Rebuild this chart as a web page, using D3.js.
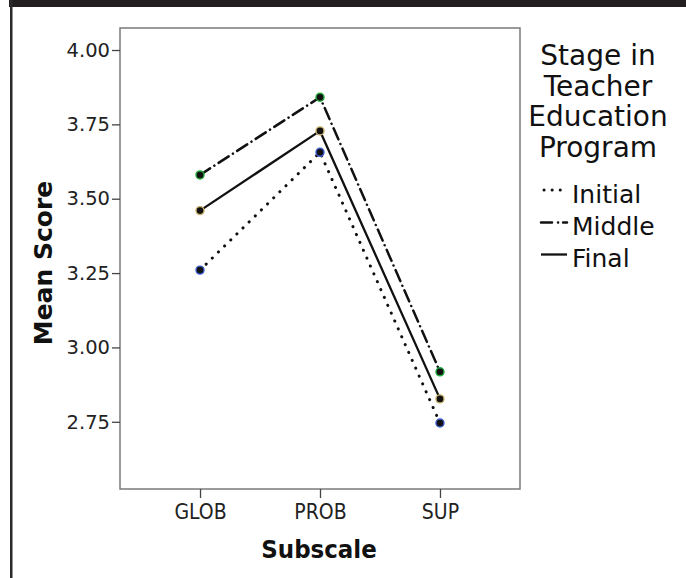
<html>
<head>
<style>
body { margin: 0; background: #fff; }
.tick text { font-family: "DejaVu Sans"; }
</style>
</head>
<body>
<div id=chartContainer></div>
<script src="https://d3js.org/d3.v7.min.js"></script>
<script type="text/javascript">
    // values
    var subscales = ["GLOB", "PROB", "SUP"];
    var initialScores = [3.26, 3.656, 2.746];
    var middleScores = [3.58, 3.841, 2.918];
    var finalScores = [3.46, 3.728, 2.827];
    var yTicks = [2.75, 3.00, 3.25, 3.50, 3.75, 4.00];
    var legendTitle = ["Stage in", "Teacher", "Education", "Program"];
    var stageNames = ["Initial", "Middle", "Final"];

    var W = 686, H = 578;
    var svg = d3.select("#chartContainer").append("svg")
        .attr("width", W).attr("height", H);

    // page frame bits
    svg.append("rect").attr("x", 9).attr("y", 0).attr("width", W - 9).attr("height", 7).attr("fill", "#231f20");
    svg.append("rect").attr("x", 10).attr("y", 0).attr("width", 2.5).attr("height", H).attr("fill", "#2a2a2a");

    var plotLeft = 120, plotRight = 520, plotTop = 28, plotBottom = 489;

    var x = d3.scalePoint().domain(subscales).range([plotLeft, plotRight]).padding(0.667);
    var y = d3.scaleLinear().domain([2.524, 4.074]).range([plotBottom, plotTop]);

    // plot box
    svg.append("rect")
        .attr("x", plotLeft).attr("y", plotTop)
        .attr("width", plotRight - plotLeft).attr("height", plotBottom - plotTop)
        .attr("fill", "none").attr("stroke", "#7a7a7a").attr("stroke-width", 1.5);

    var yAxis = svg.append("g")
        .attr("transform", "translate(" + plotLeft + ",0)")
        .call(d3.axisLeft(y).tickValues(yTicks).tickFormat(d3.format(".2f")).tickSize(8).tickPadding(2));
    yAxis.select(".domain").remove();
    yAxis.selectAll("line").attr("stroke", "#444").attr("stroke-width", 1.3);
    yAxis.selectAll("text").style("font-size", "19.5px").attr("fill", "#222");

    var xAxis = svg.append("g")
        .attr("transform", "translate(0," + plotBottom + ")")
        .call(d3.axisBottom(x).tickSize(9).tickPadding(6));
    xAxis.select(".domain").remove();
    xAxis.selectAll("line").attr("stroke", "#444").attr("stroke-width", 1.3);
    xAxis.selectAll("text")
        .style("font-family", "'DejaVu Sans Condensed', 'Liberation Sans Narrow', sans-serif")
        .style("font-stretch", "condensed")
        .style("font-size", "21px").attr("fill", "#222");

    // axis titles
    svg.append("text")
        .attr("transform", "translate(52,263) rotate(-90)")
        .attr("text-anchor", "middle")
        .style("font-family", "DejaVu Sans").style("font-weight", "bold").style("font-size", "25px")
        .attr("fill", "#111")
        .text("Mean Score");

    svg.append("text")
        .attr("x", 319).attr("y", 558)
        .attr("text-anchor", "middle")
        .style("font-family", "'DejaVu Sans Condensed', 'DejaVu Sans', sans-serif")
        .style("font-weight", "bold").style("font-size", "25.5px")
        .attr("fill", "#111")
        .text("Subscale");

    var series = [
        { name: "Initial", values: initialScores, dash: "0.1,8.5", cap: "round", width: 3, ring: "#3a5bd0" },
        { name: "Middle", values: middleScores, dash: "12,5,0.1,5", cap: "round", width: 2.5, ring: "#1fa83a" },
        { name: "Final", values: finalScores, dash: null, cap: "butt", width: 2.3, ring: "#c8b06a" }
    ];

    var line = d3.line()
        .x(function (d, i) { return x(subscales[i]); })
        .y(function (d) { return y(d); });

    series.forEach(function (s) {
        svg.append("path")
            .datum(s.values)
            .attr("d", line)
            .attr("fill", "none")
            .attr("stroke", "#111")
            .attr("stroke-width", s.width)
            .attr("stroke-linecap", s.cap)
            .attr("stroke-dasharray", s.dash);
    });

    series.forEach(function (s) {
        svg.selectAll(null)
            .data(s.values)
            .enter()
            .append("circle")
            .attr("cx", function (d, i) { return x(subscales[i]); })
            .attr("cy", function (d) { return y(d); })
            .attr("r", 4)
            .attr("fill", "#111")
            .attr("stroke", s.ring)
            .attr("stroke-width", 1.4);
    });

    // legend
    svg.selectAll("title_text")
        .data(legendTitle)
        .enter()
        .append("text")
        .attr("x", 598)
        .attr("y", function (d, i) { return 65 + i * 30.5; })
        .attr("text-anchor", "middle")
        .style("font-family", "DejaVu Sans")
        .style("font-size", "28px")
        .attr("fill", "#111")
        .text(function (d) { return d; });

    var itemY = [202.5, 235, 267];
    series.forEach(function (s, i) {
        svg.append("line")
            .attr("x1", s.name == "Initial" ? 544 : 541).attr("x2", 567)
            .attr("y1", itemY[i] - 12.5).attr("y2", itemY[i] - 12.5)
            .attr("stroke", "#111")
            .attr("stroke-width", s.width)
            .attr("stroke-linecap", s.cap)
            .attr("stroke-dasharray", s.name == "Initial" ? "0.1,8" : (s.name == "Middle" ? "11,6,0.1,5" : null));
        svg.append("text")
            .attr("x", 572).attr("y", itemY[i])
            .style("font-family", "DejaVu Sans")
            .style("font-size", "25px")
            .attr("fill", "#111")
            .text(stageNames[i]);
    });
</script>
</body>
</html>
